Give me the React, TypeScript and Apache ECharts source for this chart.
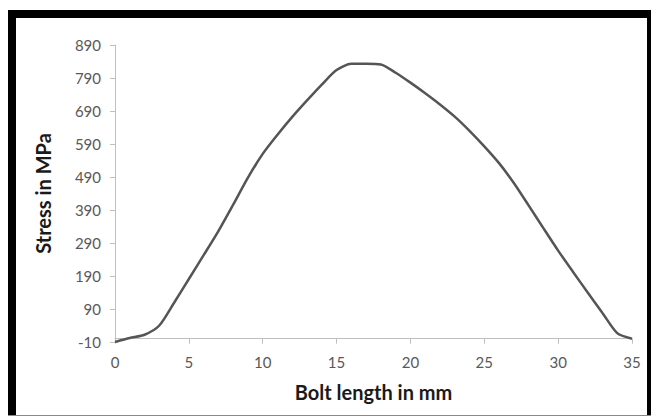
import React, { useEffect, useRef } from "react";
import * as echarts from "echarts";

const boltLength = [0, 1, 2, 3, 4, 5, 6, 7, 8, 9, 10, 11, 12, 13, 14, 15, 16, 17, 18, 19, 20, 21, 22, 23, 24, 25, 26, 27, 28, 29, 30, 31, 32, 33, 34, 35];
const stress = [-10, 2, 12, 40, 109, 181, 253, 326, 406, 488, 560, 618, 672, 722, 770, 814, 833, 833, 831, 806, 776, 744, 710, 673, 630, 583, 532, 472, 404, 335, 267, 203, 140, 78, 17, 0];

const yTicks = { min: -10, max: 890, interval: 100 };
const xTicks = { min: 0, max: 35, interval: 5 };

export default function App() {
  const ref = useRef<HTMLDivElement>(null);
  useEffect(() => {
    const chart = echarts.init(ref.current!, null, { renderer: "svg" });
    const font = "Lato, 'Open Sans', sans-serif";
    chart.setOption({
      animation: false,
      backgroundColor: "#ffffff",
      grid: { left: 115, right: 19, top: 45, bottom: 74, containLabel: false },
      xAxis: {
        type: "value",
        min: xTicks.min,
        max: xTicks.max,
        interval: xTicks.interval,
        name: "Bolt length in mm",
        nameLocation: "middle",
        nameGap: 40,
        nameTextStyle: { fontFamily: font, fontWeight: "bold", fontSize: 20, color: "#1a1a1a" },
        axisLine: { show: true, lineStyle: { color: "#bfbfbf", width: 1 } },
        axisTick: { show: true, inside: false, length: 5, lineStyle: { color: "#bfbfbf" } },
        axisLabel: { margin: 12, color: "#595959", fontFamily: font, fontSize: 15 },
        splitLine: { show: false },
      },
      yAxis: {
        type: "value",
        min: yTicks.min,
        max: yTicks.max,
        interval: yTicks.interval,
        name: "Stress in MPa",
        nameLocation: "middle",
        nameRotate: 90,
        nameGap: 62,
        nameTextStyle: { fontFamily: font, fontWeight: "bold", fontSize: 20, color: "#1a1a1a" },
        axisLine: { show: true, lineStyle: { color: "#bfbfbf", width: 1 } },
        axisTick: { show: true, inside: false, length: 5, lineStyle: { color: "#bfbfbf" } },
        axisLabel: { margin: 14, color: "#595959", fontFamily: font, fontSize: 15 },
        splitLine: { show: false },
      },
      series: [
        {
          type: "line",
          data: boltLength.map((x, i) => [x, stress[i]]),
          smooth: 0.25,
          showSymbol: false,
          symbol: "none",
          lineStyle: { color: "#555555", width: 2.5 },
        },
      ],
      graphic: [
        { type: "rect", shape: { x: 8, y: 10, width: 643, height: 8 }, style: { fill: "#000" }, z: 100 },
        { type: "rect", shape: { x: 8, y: 10, width: 8, height: 406 }, style: { fill: "#000" }, z: 100 },
        { type: "rect", shape: { x: 647, y: 10, width: 4, height: 406 }, style: { fill: "#000" }, z: 100 },
        { type: "line", shape: { x1: 8, y1: 415.5, x2: 651, y2: 415.5 }, style: { stroke: "#888", lineWidth: 1 }, z: 100 },
      ],
    });
    return () => chart.dispose();
  }, []);
  return (
    <div
      ref={ref}
      style={{ position: "absolute", left: 0, top: 0, width: 651, height: 416, background: "#fff" }}
    />
  );
}
